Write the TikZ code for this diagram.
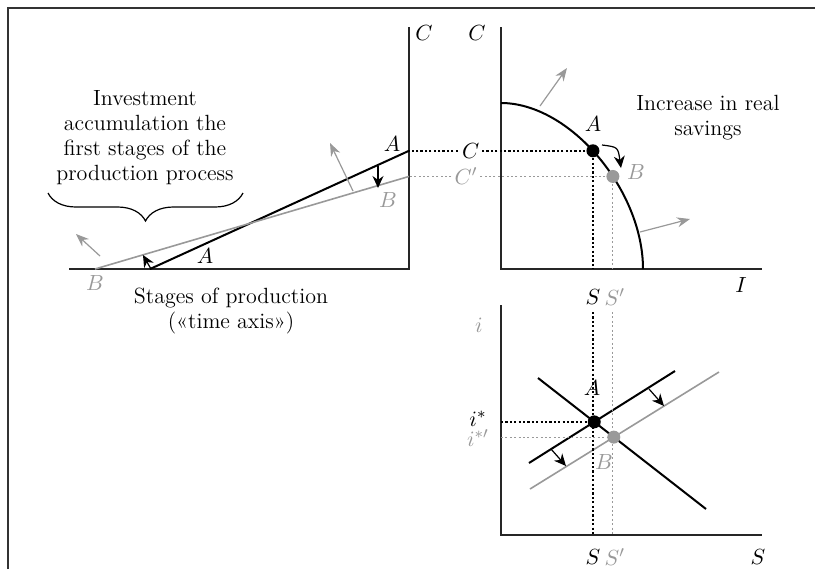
\documentclass[tikz,border=0pt]{standalone}
\usepackage{amsmath}
\usepackage{xcolor}
\usepackage{tikz}
\usetikzlibrary{arrows.meta,positioning,calc,intersections,decorations.pathreplacing}
\definecolor{shiftgray}{gray}{0.6}

\begin{document}
\begin{tikzpicture}[
    x=0.5pt, y=-0.5pt,
    font=\fontsize{11}{12.5}\selectfont,
    axis/.style={line width=0.9pt, black!85},
    oldcurve/.style={line width=1pt, black},
    newcurve/.style={line width=0.8pt, shiftgray},
    guide/.style={dash pattern=on 1.1pt off 1.1pt, line width=0.8pt},
    newguide/.style={dash pattern=on 1pt off 1.2pt, line width=0.5pt, shiftgray},
    shiftarrow/.style={-{Stealth[length=6pt, width=5.5pt]}, line width=0.6pt},
    growarrow/.style={-{Stealth[length=6.5pt, width=5pt]}, line width=0.6pt, shiftgray},
    olddot/.style={circle, fill=black, inner sep=0pt, minimum size=6.5pt},
    newdot/.style={circle, fill=shiftgray, inner sep=0pt, minimum size=6.5pt},
    newlabel/.style={text=shiftgray}
]
    \useasboundingbox (0,0) rectangle (815,569);
    \draw[line width=0.6pt, black!80] (8,569) -- (8,8) -- (815,8);

    % production possibilities
    \coordinate (po) at (501,269);
    \draw[axis] (501,27) -- (po) -- (762,269);
    \node (pC) at (477,33) {$C$};
    \node (pI) at (741,285) {$I$};
    \draw[growarrow] (540,106) -- (567,68);
    \draw[growarrow] (640,232) -- (690,219);
    \draw[oldcurve] (501,103) .. controls (570,103) and (643,190) .. (643,269)
        node[pos=.47, olddot] (A) {} node[pos=.6, newdot] (B) {};
    \node (pA) at (593,124) {$A$};
    \node[newlabel] (pB) at (636,172) {$B$};
    \draw[shiftarrow] (602,145) .. controls (618,147) .. (621,168);
    \node[align=center] (savings) at (708,118) {Increase in real\\savings};

    % stages of production
    \coordinate (so) at (409,269);
    \draw[axis] (69,269) -- (so) -- (409,27);
    \node (sC) at (424,33) {$C$};
    \draw[oldcurve] (150,269) -- (A -| so);
    \draw[newcurve] (95,269) -- (B -| so);
    \draw[guide] (A) -- node[pos=.65, fill=white, inner sep=1.5pt] (gC) {$C$} (A -| so);
    \draw[newguide] (B) -- node[pos=.71, fill=white, inner sep=1.5pt, newlabel] (gCp) {$C'$} (B -| so);
    \node (sA1) at (392,144) {$A$};
    \node[newlabel] (sB1) at (388,200) {$B$};
    \node (sA2) at (205,256) {$A$};
    \node[newlabel] (sB2) at (95,283) {$B$};
    \draw[shiftarrow] (378,166) -- (378,188);
    \draw[shiftarrow] (151,269) -- (143,255);
    \draw[growarrow] (353,191) -- (330,143);
    \draw[growarrow] (100,256) -- (76,234);
    \node[align=center] (invest) at (145,138) {Investment\\accumulation the\\first stages of the\\production process};
    \draw[decorate, decoration={brace, amplitude=14pt}, line width=0.6pt] (243,193) -- (48,193);
    \node[align=center] (stages) at (231,311) {Stages of production\\(«time axis»)};

    % loanable funds
    \coordinate (io) at (501,535);
    \coordinate (gap) at (0,312);
    \draw[axis] (501,305) -- (io) -- (762,535);
    \draw[oldcurve, name path=demand] (538,378) -- (706,509);
    \draw[oldcurve, name path=supply] (529,463) -- (675,371);
    \draw[newcurve, name path=supplyB] (530,489) -- (719,372);
    \path[name intersections={of=demand and supply, by=iA}];
    \path[name intersections={of=demand and supplyB, by=iB}];
    \draw[guide] (A) -- (A |- po);
    \draw[newguide] (B) -- (B |- po);
    \draw[guide] (A |- gap) -- (A |- io);
    \draw[newguide] (B |- gap) -- (B |- io);
    \draw[guide] (iA -| io) -- (iA);
    \draw[newguide] (iB -| io) -- (iB);
    \node[olddot] (iAdot) at (iA) {};
    \node[newdot] (iBdot) at (iB) {};
    \node (iAl) at (592,388) {$A$};
    \node[newlabel] (iBl) at (604,462) {$B$};
    \draw[shiftarrow] (649,389) -- (664,406);
    \draw[shiftarrow] (551,449) -- (566,466);
    \node[newlabel] (ii) at (479,325) {$i$};
    \node (istar) at (478,419) {$i^*$};
    \node[newlabel] (istarp) at (478,438) {$i^{*\prime}$};
    \node (mS) at (A |- 0,297) {$S$};
    \node[newlabel] (mSp) at ($(B |- 0,297)+(2,0)$) {$S'$};
    \node (bS) at (A |- 0,557) {$S$};
    \node[newlabel] (bSp) at ($(B |- 0,557)+(2,0)$) {$S'$};
    \node (bS2) at (758,557) {$S$};
\end{tikzpicture}
\end{document}
